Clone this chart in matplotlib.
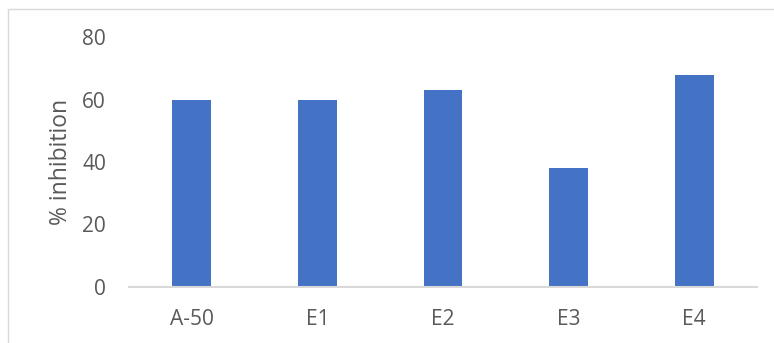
import numpy as np
import matplotlib.pyplot as plt
from matplotlib.patches import Rectangle

samples = ['A-50', 'E1', 'E2', 'E3', 'E4']
inhibition = [60, 60, 63, 38, 68]
y_ticks = [0, 20, 40, 60, 80]

bar_color = '#4472C4'
text_color = '#595959'
line_color = '#D9D9D9'

plt.rcParams['font.family'] = ['Open Sans', 'DejaVu Sans']

fig = plt.figure(figsize=(7.74, 3.43), dpi=100)
W, H = 774, 343

# chart frame (right and bottom edges fall outside the image)
fig.patches.append(Rectangle((8 / W, -0.05), 1.1, (H - 9) / H + 0.05,
                             transform=fig.transFigure, fill=False,
                             edgecolor=line_color, linewidth=1.0))

ax = fig.add_axes([129 / W, (H - 287) / H, (757 - 129) / W, 250 / H])
x = np.arange(len(samples))
ax.bar(x, inhibition, width=0.31, color=bar_color, zorder=2)

ax.set_xlim(-0.5, len(samples) - 0.5)
ax.set_ylim(0, 80)
ax.set_yticks(y_ticks)
ax.set_xticks(x)
ax.set_xticklabels(samples)

for s in ['top', 'right', 'left']:
    ax.spines[s].set_visible(False)
ax.spines['bottom'].set_color(line_color)
ax.spines['bottom'].set_linewidth(1.5)
ax.spines['bottom'].set_zorder(3)

ax.tick_params(axis='both', length=0, labelsize=15, colors=text_color)
ax.tick_params(axis='y', pad=16.5)
ax.tick_params(axis='x', pad=16)
ax.set_ylabel('% inhibition', fontsize=16.5, color=text_color)
ax.yaxis.set_label_coords(-56 / 628, 0.5)

fig.savefig('out.png', dpi=100)
